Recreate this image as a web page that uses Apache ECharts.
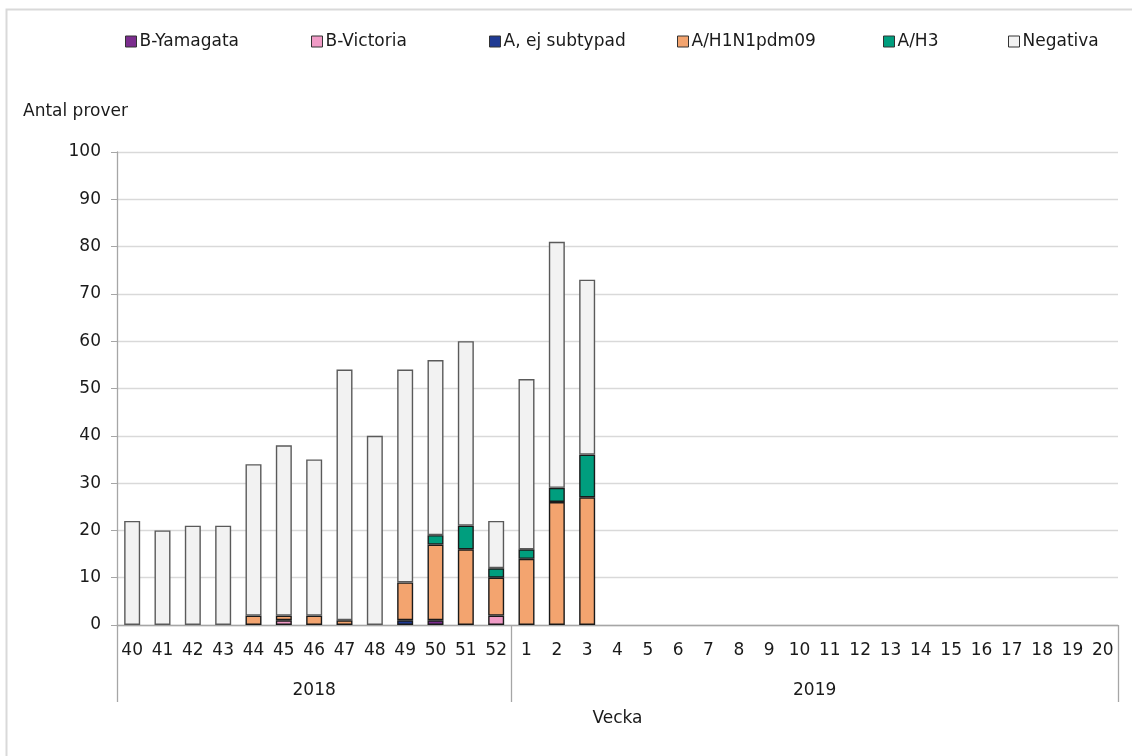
<!DOCTYPE html>
<html>
<head>
<meta charset="utf-8">
<script src="https://cdn.jsdelivr.net/npm/echarts@6/dist/echarts.min.js"></script>
<style>
  html, body { margin: 0; padding: 0; background: #fff; }
  #chart { width: 1132px; height: 756px; }
</style>
</head>
<body>
<div id="chart"></div>
<script>
// Weeks of the 2018/2019 season
const weeks = ['40','41','42','43','44','45','46','47','48','49','50','51','52',
  '1','2','3','4','5','6','7','8','9','10','11','12','13','14','15','16','17','18','19','20'];
const years = ['2018', '2019'];
const weeksPerYear = [13, 20];

// Number of samples per result, per week
const bYamagata  = [0,0,0,0,0,0,0,0,0,0,1,0,0, 0,0,0];
const bVictoria  = [0,0,0,0,0,1,0,0,0,0,0,0,2, 0,0,0];
const aEjSubtyp  = [0,0,0,0,0,0,0,0,0,1,0,0,0, 0,0,0];
const aH1N1pdm09 = [0,0,0,0,2,1,2,1,0,8,16,16,8, 14,26,27];
const aH3        = [0,0,0,0,0,0,0,0,0,0,2,5,2, 2,3,9];
const negativa   = [22,20,21,21,32,36,33,53,40,45,37,39,10, 36,52,37];

const yTicks = { min: 0, max: 100, interval: 10 };

const FONT = 'DejaVu Sans';
const TXT = '#1a1a1a';

const seriesDefs = [
  { name: 'B-Yamagata', data: bYamagata, color: '#7B2D8E' },
  { name: 'B-Victoria', data: bVictoria, color: '#F09BC6' },
  { name: 'A, ej subtypad', data: aEjSubtyp, color: '#1F3A93' },
  { name: 'A/H1N1pdm09', data: aH1N1pdm09, color: '#F3A46F' },
  { name: 'A/H3', data: aH3, color: '#009E7E' },
  { name: 'Negativa', data: negativa, color: '#F2F2F2', border: '#5a5a5a' }
];
const legendLeft = [120, 306, 484, 672, 878, 1003];

// Year row: half-step slots along the week axis, labels at each year's centre
const totalWeeks = weeksPerYear.reduce((a, b) => a + b, 0);
const yearCentres = {};
const yearBoundaryAt = new Set([0]);
let acc = 0;
weeksPerYear.forEach((n, i) => {
  yearCentres[2 * acc + n] = years[i];
  acc += n;
  yearBoundaryAt.add(2 * acc);
});
const yearSlots = [];
for (let k = 0; k <= 2 * totalWeeks; k++) yearSlots.push(yearCentres[k] || '');

const chart = echarts.init(document.getElementById('chart'));

const series = seriesDefs.map(s => ({
  name: s.name,
  type: 'bar',
  stack: 'total',
  xAxisIndex: 0,
  barWidth: 16,
  // empty segments are left out so they draw no outline
  data: s.data.map(v => (v === 0 ? null : v)),
  itemStyle: {
    color: s.color,
    borderColor: s.border || '#1a1a1a',
    borderWidth: 1.4
  },
  emphasis: { disabled: true }
}));

const legends = seriesDefs.map((s, i) => ({
  data: [s.name],
  left: legendLeft[i],
  top: 28,
  itemWidth: 11,
  itemHeight: 11,
  itemGap: 4,
  icon: 'rect',
  selectedMode: false,
  textStyle: { fontFamily: FONT, fontSize: 17, color: TXT, padding: [0, 0, 0, -2] },
  itemStyle: { borderColor: '#333', borderWidth: 1 }
}));

chart.setOption({
  animation: false,
  backgroundColor: '#fff',
  textStyle: { fontFamily: FONT },
  legend: legends,
  graphic: [{
    type: 'rect',
    shape: { x: 6.5, y: 9.5, width: 1140, height: 760 },
    style: { fill: 'none', stroke: '#d9d9d9', lineWidth: 2 },
    silent: true
  }, {
    type: 'text',
    left: 23, top: 103,
    style: { text: 'Antal prover', font: '17px "DejaVu Sans"', fill: TXT }
  }],
  grid: { left: 117, right: 14, top: 152, bottom: 131, containLabel: false },
  xAxis: [{
    type: 'category',
    data: weeks,
    axisLine: { lineStyle: { color: '#a6a6a6', width: 1.3 } },
    axisTick: { show: false },
    axisLabel: { interval: 0, color: TXT, fontFamily: FONT, fontSize: 17, margin: 17 },
    name: 'Vecka',
    nameLocation: 'middle',
    nameGap: 85,
    nameTextStyle: { color: TXT, fontFamily: FONT, fontSize: 17 }
  }, {
    type: 'category',
    position: 'bottom',
    boundaryGap: false,
    data: yearSlots,
    axisLine: { show: false },
    axisTick: {
      show: true,
      length: 77,
      interval: (idx) => yearBoundaryAt.has(idx),
      lineStyle: { color: '#a6a6a6', width: 1.3 }
    },
    axisLabel: {
      interval: 0,
      color: TXT, fontFamily: FONT, fontSize: 17, margin: 57
    },
    splitLine: { show: false }
  }],
  yAxis: {
    type: 'value',
    min: yTicks.min,
    max: yTicks.max,
    interval: yTicks.interval,
    axisLine: { show: true, lineStyle: { color: '#a6a6a6', width: 1.3 } },
    axisTick: { show: true, length: 6, lineStyle: { color: '#a6a6a6' } },
    axisLabel: { color: TXT, fontFamily: FONT, fontSize: 17, margin: 16 },
    splitLine: { lineStyle: { color: '#d9d9d9', width: 1.3 } }
  },
  series: series
});
</script>
</body>
</html>
